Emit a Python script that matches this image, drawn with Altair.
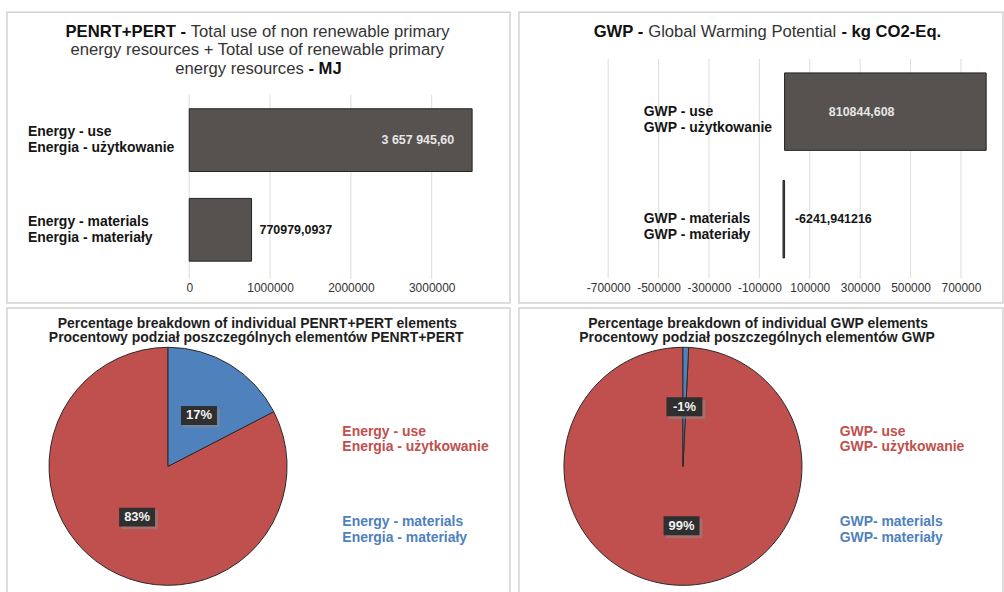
import altair as alt
import pandas as pd

FONT = "Liberation Sans"

# ---------------- data ----------------
penrt_cats = ["Energy - use\nEnergia - użytkowanie", "Energy - materials\nEnergia - materiały"]
penrt_values = [3657945.60, 770979.0937]
penrt_labels = ["3 657 945,60", "770979,0937"]
penrt_ticks = [0, 1000000, 2000000, 3000000]

gwp_cats = ["GWP - use\nGWP - użytkowanie", "GWP - materials\nGWP - materiały"]
gwp_values = [810844.608, -6241.941216]
gwp_labels = ["810844,608", "-6241,941216"]
gwp_ticks = [-700000, -500000, -300000, -100000, 100000, 300000, 500000, 700000]

penrt_pie_cats = ["Energy - use\nEnergia - użytkowanie", "Energy - materials\nEnergia - materiały"]
gwp_pie_cats = ["GWP- use\nGWP- użytkowanie", "GWP- materials\nGWP- materiały"]
# slice order (first slice starts at 12 o'clock): materials, then use
pie_order = [1, 0]

RED = "#C0504D"
BLUE = "#4F81BD"
BAR = "#57524f"

# Arial / Liberation Sans advance widths (1/1000 em) for title layout
_REG = {' ': 278, '-': 333, '+': 584, '.': 278, ',': 278}
_BOLD = {' ': 278, '-': 333, '+': 584, '.': 278, ',': 278}
for c in "0123456789":
    _REG[c] = 556
    _BOLD[c] = 556
_REG.update(dict(zip("abcdefghijklmnopqrstuvwxyz",
                     [556, 556, 500, 556, 556, 278, 556, 556, 222, 222, 500, 222, 833, 556, 556, 556, 556, 333, 500, 278, 556, 500, 722, 500, 500, 500])))
_BOLD.update(dict(zip("abcdefghijklmnopqrstuvwxyz",
                      [556, 611, 556, 611, 556, 333, 611, 611, 278, 278, 556, 278, 889, 611, 611, 611, 611, 389, 556, 333, 611, 556, 778, 556, 556, 500])))
_REG.update(dict(zip("ABCDEFGHIJKLMNOPQRSTUVWXYZ",
                     [667, 667, 722, 722, 667, 611, 778, 722, 278, 500, 667, 556, 833, 722, 778, 667, 778, 722, 667, 611, 722, 667, 944, 667, 667, 611])))
_BOLD.update(dict(zip("ABCDEFGHIJKLMNOPQRSTUVWXYZ",
                      [722, 722, 722, 722, 667, 611, 778, 722, 278, 556, 722, 611, 833, 722, 778, 667, 778, 722, 667, 611, 722, 667, 944, 667, 667, 611])))


def text_width(s, bold, size):
    t = _BOLD if bold else _REG
    return sum(t.get(c, 556) for c in s) / 1000.0 * size


def title_layers(lines, cx, size, bold_color="#111111", reg_color="#333333"):
    layers = []
    for y, segs in lines:
        total = sum(text_width(s, b, size) for s, b in segs)
        x = cx - total / 2.0
        for s, b in segs:
            lead = len(s) - len(s.lstrip(" "))
            shown = s.strip(" ")
            xs = x + text_width(" " * lead, b, size)
            layers.append(
                alt.Chart(pd.DataFrame({"t": [shown]}))
                .mark_text(align="left", baseline="middle", fontSize=size,
                           fontWeight="bold" if b else "normal",
                           color=bold_color if b else reg_color, font=FONT)
                .encode(x=alt.value(xs), y=alt.value(y), text="t:N")
            )
            x += text_width(s, b, size)
    return layers


def bar_panel(cats, values, labels, ticks, domain, xrange, yrange, pi, po,
              grid_y, cat_x, cat_dy, in_dx, out_dx, titles, title_cx, width, height):
    df = pd.DataFrame({"cat": cats, "value": values, "label": labels, "idx": list(range(len(cats)))})
    gdf = pd.DataFrame({"t": ticks})
    xscale = alt.Scale(domain=domain, range=xrange, clamp=True, nice=False)
    xaxis = alt.Axis(values=ticks, labelExpr="'' + datum.value", grid=False, domain=False,
                     ticks=False, tickSize=0, labelPadding=0, labelBaseline="middle",
                     labelFlush=False, labelFontSize=12, labelColor="#333333",
                     labelFont=FONT, offset=-16, title=None)

    def xenc(f):
        return alt.X(f + ":Q", scale=xscale, axis=xaxis)

    yenc = alt.Y("cat:N", sort=cats, axis=None,
                 scale=alt.Scale(range=yrange, paddingInner=pi, paddingOuter=po))

    grid = alt.Chart(gdf).mark_rule(color="#dcdcdc", strokeWidth=1).encode(
        x=xenc("t"), y=alt.value(grid_y[0]), y2=alt.value(grid_y[1]))
    bars = alt.Chart(df).mark_bar(color=BAR, stroke="#222222", strokeWidth=1).encode(
        x=xenc("value"), y=yenc)
    catlab = alt.Chart(df).mark_text(align="left", baseline="middle", fontSize=14,
                                     fontWeight="bold", lineBreak="\n", lineHeight=16,
                                     dy=cat_dy, color="#151515", font=FONT).encode(
        x=alt.value(cat_x), y=yenc, text="cat:N")
    vin = alt.Chart(df).transform_filter(alt.datum.idx == 0).mark_text(
        align="right", baseline="middle", fontSize=12.5, fontWeight="bold",
        color="#e6e6e6", dx=in_dx, font=FONT).encode(x=xenc("value"), y=yenc, text="label:N")
    vout = alt.Chart(df).transform_filter(alt.datum.idx == 1).mark_text(
        align="left", baseline="middle", fontSize=12.5, fontWeight="bold",
        color="#151515", dx=out_dx, font=FONT).encode(x=xenc("value"), y=yenc, text="label:N")
    layers = [grid, bars, catlab, vin, vout] + title_layers(titles, title_cx, 16.7)
    return alt.layer(*layers).properties(width=width, height=height)


def pie_panel(cats, values, cx, cy, R, legend_x, legend_y, titles, title_cx, width, height):
    df = pd.DataFrame({"cat": cats, "value": values, "idx": pie_order})
    xs = alt.Scale(domain=[-1, 1], range=[cx - R, cx + R], nice=False, zero=False)
    ys = alt.Scale(domain=[-1, 1], range=[cy + R, cy - R], nice=False, zero=False)
    cscale = alt.Scale(domain=cats, range=[RED, BLUE])

    arc = alt.Chart(df).transform_calculate(absval="abs(datum.value)").mark_arc(
        outerRadius=R, stroke="#2a2a2a", strokeWidth=1).encode(
        theta=alt.Theta("absval:Q", stack=True),
        color=alt.Color("cat:N", scale=cscale, legend=None),
        order=alt.Order("idx:Q"),
        x=alt.XDatum(0, type="quantitative", scale=xs, axis=None),
        y=alt.YDatum(0, type="quantitative", scale=ys, axis=None),
    )
    lab = (alt.Chart(df)
           .transform_calculate(absval="abs(datum.value)")
           .transform_joinaggregate(total="sum(absval)")
           .transform_window(cum="sum(absval)", sort=[alt.SortField("idx")], frame=[None, 0])
           .transform_calculate(mid="(datum.cum - datum.absval / 2) / datum.total * 2 * PI")
           .transform_calculate(lx="0.5 * sin(datum.mid)", ly="0.5 * cos(datum.mid)",
                                pct="round(datum.value / datum.total * 100) + '%'"))
    lx = alt.X("lx:Q", scale=xs, axis=None)
    ly = alt.Y("ly:Q", scale=ys, axis=None)
    shadow = lab.mark_point(shape="M-1.65,-0.72H2.2V1.28H-1.65Z", size=361, filled=True,
                            color="#8a8a8a", opacity=0.55, strokeWidth=0).encode(x=lx, y=ly)
    box = lab.mark_point(shape="M-1.9,-1H1.9V1H-1.9Z", size=361, filled=True,
                         color="#2f2f2f", opacity=1, strokeWidth=0).encode(x=lx, y=ly)
    txt = lab.mark_text(fontSize=13, fontWeight="bold", color="#f2f2f2", baseline="middle",
                        font=FONT).encode(x=lx, y=ly, text="pct:N")
    leg = alt.Chart(pd.DataFrame({"cat": cats})).mark_text(
        align="left", baseline="middle", fontSize=14, fontWeight="bold", lineBreak="\n",
        lineHeight=15.5, font=FONT).encode(
        x=alt.value(legend_x),
        y=alt.Y("cat:N", sort=cats, axis=None,
                scale=alt.Scale(type="point", range=legend_y, padding=0)),
        text="cat:N",
        color=alt.Color("cat:N", scale=cscale, legend=None))
    layers = [arc, shadow, box, txt, leg] + title_layers(titles, title_cx, 14,
                                                         bold_color="#1e1e1e", reg_color="#1e1e1e")
    return alt.layer(*layers).resolve_scale(y="independent").properties(width=width, height=height)


tl = bar_panel(
    penrt_cats, penrt_values, penrt_labels, penrt_ticks,
    domain=[0, 3500000], xrange=[183, 467], yrange=[83.5, 263.5], pi=0.3, po=0.15,
    grid_y=[83, 268], cat_x=21, cat_dy=-8, in_dx=-18, out_dx=8,
    titles=[(20, [("PENRT+PERT - ", True), ("Total use of non renewable primary", False)]),
            (38.5, [("energy resources + Total use of renewable primary", False)]),
            (57.5, [("energy resources ", False), ("- MJ", True)])],
    title_cx=252.5, width=505, height=292)

tr = bar_panel(
    gwp_cats, gwp_values, gwp_labels, gwp_ticks,
    domain=[-700000, 800000], xrange=[89.6, 469.1], yrange=[45.9, 261.9], pi=0.28, po=0.14,
    grid_y=[47, 267], cat_x=125.3, cat_dy=0, in_dx=-92, out_dx=12,
    titles=[(20, [("GWP - ", True), ("Global Warming Potential", False), (" - kg CO2-Eq.", True)])],
    title_cx=249.5, width=486, height=292)

bl = pie_panel(
    penrt_pie_cats, penrt_values, cx=161.7, cy=159, R=119.5,
    legend_x=336.7, legend_y=[124.2, 215.3],
    titles=[(15.7, [("Percentage breakdown of individual PENRT+PERT elements", True)]),
            (30, [("Procentowy podział poszczególnych elementów PENRT+PERT", True)])],
    title_cx=251.5, width=505, height=287)

br = pie_panel(
    gwp_pie_cats, gwp_values, cx=164.7, cy=159, R=119.5,
    legend_x=322, legend_y=[124.2, 215.3],
    titles=[(15.7, [("Percentage breakdown of individual GWP elements", True)]),
            (30, [("Procentowy podział poszczególnych elementów GWP", True)])],
    title_cx=240.3, width=486, height=287)

chart = alt.vconcat(
    alt.hconcat(tl, tr, spacing=7),
    alt.hconcat(bl, br, spacing=7),
    spacing=3,
).configure(
    padding={"left": 6, "top": 10, "right": 0, "bottom": 0},
    font=FONT,
    background="white",
).configure_view(stroke="#d2d2d2", strokeWidth=1.5)

chart.save("out.html", embed_options={"renderer": "svg", "actions": False})
